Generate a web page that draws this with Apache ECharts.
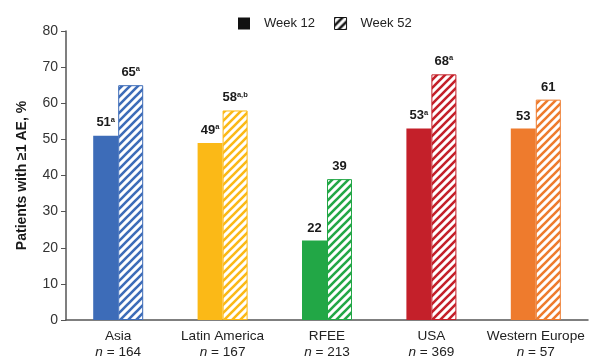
<!DOCTYPE html>
<html>
<head>
<meta charset="utf-8">
<script src="https://cdn.jsdelivr.net/npm/echarts@6/dist/echarts.min.js"></script>
<style>
  html, body { margin: 0; padding: 0; background: #fff; }
  #chart { width: 590px; height: 359px; }
</style>
</head>
<body>
<div id="chart"></div>
<script>
var regions = ['Asia', 'Latin America', 'RFEE', 'USA', 'Western Europe'];
var sizes = [164, 167, 213, 369, 57];
var week12 = [51, 49, 22, 53, 53];
var week52 = [65, 58, 39, 68, 61];
var week12Notes = ['a', 'a', '', 'a', ''];
var week52Notes = ['a', 'a,b', '', 'a', ''];
var colors = ['#3d6cb8', '#fbb917', '#22a746', '#c4202a', '#ee7b2d'];
var yTicks = [0, 10, 20, 30, 40, 50, 60, 70, 80];

// diagonal hatch fill
var hatch = function (color) {
    var s = 8;
    var c = document.createElement('canvas');
    c.width = s; c.height = s;
    var ctx = c.getContext('2d');
    ctx.fillStyle = '#fff';
    ctx.fillRect(0, 0, s, s);
    ctx.strokeStyle = color;
    ctx.lineWidth = 2.6;
    ctx.beginPath();
    ctx.moveTo(-1, s + 1); ctx.lineTo(s + 1, -1);
    ctx.moveTo(-2, 2); ctx.lineTo(2, -2);
    ctx.moveTo(s - 2, s + 2); ctx.lineTo(s + 2, s - 2);
    ctx.stroke();
    return { image: c, repeat: 'repeat' };
};

var valueRich = {
    v: { fontSize: 13, fontWeight: 'bold', color: '#1a1a1a', fontFamily: 'Liberation Sans' },
    s: { fontSize: 7.5, fontWeight: 'bold', color: '#1a1a1a', fontFamily: 'Liberation Sans', padding: [0, 0, 6, 0] }
};
var fmt = function (notes) {
    return function (p) {
        var n = notes[p.dataIndex];
        return n ? '{v|' + p.value + '}{s|' + n + '}' : '{v|' + p.value + '}';
    };
};

var solidData = week12.map(function (v, i) {
    return { value: v, itemStyle: { color: colors[i] } };
});
var hatchData = week52.map(function (v, i) {
    return { value: v, itemStyle: { color: hatch(colors[i]), borderColor: colors[i], borderWidth: 1 } };
});

var myChart = echarts.init(document.getElementById('chart'));
var option = {
    animation: false,
    textStyle: { fontFamily: 'Liberation Sans' },
    legend: {
        top: 12,
        left: 233,
        icon: 'rect',
        itemWidth: 12,
        itemHeight: 12,
        itemGap: 19,
        textStyle: { fontSize: 13, color: '#222', padding: [0, 0, 0, 9] },
        data: [
            { name: 'Week 12', itemStyle: { color: '#111' } },
            { name: 'Week 52', itemStyle: { color: hatch('#111'), borderColor: '#111', borderWidth: 1 } }
        ]
    },
    grid: { left: 66, right: 2, top: 31, bottom: 38 },
    xAxis: {
        type: 'category',
        data: regions,
        axisLine: { lineStyle: { color: '#555', width: 1.5 } },
        axisTick: { length: 5, lineStyle: { color: '#555' } },
        axisLabel: {
            interval: 0,
            margin: 8,
            formatter: function (val, i) {
                return '{r|' + val + '}\n{i|n}{r| = ' + sizes[i] + '}';
            },
            rich: {
                r: { fontSize: 13.6, color: '#222', lineHeight: 16 },
                i: { fontSize: 13.6, color: '#222', fontStyle: 'italic', lineHeight: 16 }
            }
        }
    },
    yAxis: {
        type: 'value',
        min: 0,
        max: 80,
        interval: 10,
        name: 'Patients with \u22651 AE, %',
        nameLocation: 'middle',
        nameRotate: 90,
        nameGap: 37,
        nameTextStyle: { fontSize: 14, fontWeight: 'bold', color: '#1a1a1a' },
        axisLine: { show: true, lineStyle: { color: '#555', width: 1.5 } },
        axisTick: { show: true, length: 5, lineStyle: { color: '#555' } },
        splitLine: { show: false },
        axisLabel: {
            fontSize: 14,
            color: '#333',
            margin: 8,
            formatter: function (v) { return yTicks.indexOf(v) >= 0 ? v : ''; }
        }
    },
    series: [{
        name: 'Week 12',
        type: 'bar',
        barWidth: 25,
        barGap: '0%',
        itemStyle: { color: '#111' },
        label: { show: true, position: 'top', distance: 6, formatter: fmt(week12Notes), rich: valueRich },
        data: solidData
    }, {
        name: 'Week 52',
        type: 'bar',
        barWidth: 25,
        barGap: '0%',
        itemStyle: { color: hatch('#111'), borderColor: '#111', borderWidth: 1 },
        label: { show: true, position: 'top', distance: 6, formatter: fmt(week52Notes), rich: valueRich },
        data: hatchData
    }]
};
myChart.setOption(option);
</script>
</body>
</html>
